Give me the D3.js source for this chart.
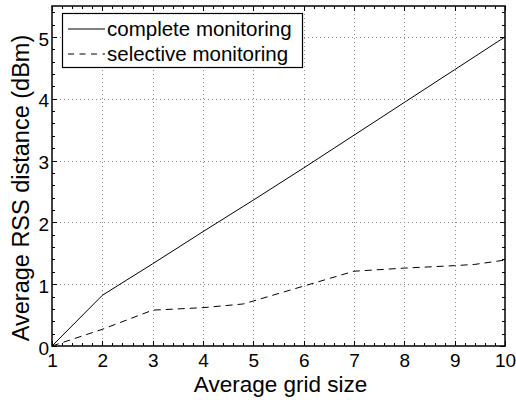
<!DOCTYPE html>
<html>
<head>
<meta charset="utf-8">
<script src="https://cdn.jsdelivr.net/npm/d3@7"></script>
<style>
  body { margin: 0; background: #fff; }
  svg { display: block; font-family: "Liberation Sans", Arial, sans-serif; }
</style>
</head>
<body>
<div id="chart"></div>
<script>
// values
const completeX = [1, 2, 3, 4, 5, 6, 7, 8, 9, 10];
const completeY = [0, 0.82, 1.33, 1.85, 2.36, 2.88, 3.41, 3.94, 4.47, 5.0];
const selectiveX = [1, 2, 3, 4, 4.8, 7, 8, 9, 9.4, 10];
const selectiveY = [0, 0.27, 0.58, 0.62, 0.68, 1.21, 1.26, 1.3, 1.32, 1.39];
const xTicks = [1, 2, 3, 4, 5, 6, 7, 8, 9, 10];
const yTicks = [0, 1, 2, 3, 4, 5];
const seriesNames = ["complete monitoring", "selective monitoring"];

const W = 516, H = 400;
const pL = 52, pR = 505, pT = 6, pB = 346;
const font = "Liberation Sans, Arial, sans-serif";

const svg = d3.select('#chart')
    .append('svg')
    .attr('width', W)
    .attr('height', H);

const x = d3.scaleLinear().domain([1, 10]).range([pL, pR]);
const y = d3.scaleLinear().domain([0, 5.5]).range([pB, pT]);

// dotted grid at the major ticks
const grid = svg.append("g")
    .attr("stroke", "#888")
    .attr("stroke-width", 1)
    .attr("stroke-dasharray", "1,3");
grid.selectAll(".gx").data(xTicks.slice(1, -1)).join("line")
    .attr("x1", d => Math.round(x(d)) + 0.5).attr("x2", d => Math.round(x(d)) + 0.5)
    .attr("y1", pT).attr("y2", pB);
grid.selectAll(".gy").data(yTicks.slice(1)).join("line")
    .attr("y1", d => Math.round(y(d)) + 0.5).attr("y2", d => Math.round(y(d)) + 0.5)
    .attr("x1", pL).attr("x2", pR);

// inward ticks on all four sides, major and minor (0.2 steps)
const minorX = d3.range(1, 10.001, 0.2);
const minorY = d3.range(0, 5.5, 0.2);
const tk = svg.append("g").attr("stroke", "#000").attr("stroke-width", 1);
minorX.forEach(v => {
    const len = Math.abs(v - Math.round(v)) < 1e-6 ? 5 : 3;
    const px = Math.round(x(v)) + 0.5;
    tk.append("line").attr("x1", px).attr("x2", px).attr("y1", pB).attr("y2", pB - len);
    tk.append("line").attr("x1", px).attr("x2", px).attr("y1", pT).attr("y2", pT + len);
});
minorY.forEach(v => {
    const len = Math.abs(v - Math.round(v)) < 1e-6 ? 5 : 3;
    const py = Math.round(y(v)) + 0.5;
    tk.append("line").attr("y1", py).attr("y2", py).attr("x1", pL).attr("x2", pL + len);
    tk.append("line").attr("y1", py).attr("y2", py).attr("x1", pR).attr("x2", pR - len);
});

// tick labels
svg.append("g")
    .attr("transform", `translate(0,${pB})`)
    .call(d3.axisBottom(x).tickValues(xTicks).tickSize(0).tickPadding(7.5).tickFormat(d3.format("d")))
    .attr("font-size", 19).attr("font-family", font)
    .call(g => g.select(".domain").remove())
    .call(g => g.selectAll("text").attr("fill", "#000"));
svg.append("g")
    .attr("transform", `translate(${pL},2)`)
    .call(d3.axisLeft(y).tickValues(yTicks).tickSize(0).tickPadding(3).tickFormat(d3.format("d")))
    .attr("font-size", 19).attr("font-family", font)
    .call(g => g.select(".domain").remove())
    .call(g => g.selectAll("text").attr("fill", "#000"));

// box
svg.append("rect")
    .attr("x", pL).attr("y", pT)
    .attr("width", pR - pL).attr("height", pB - pT)
    .attr("fill", "none").attr("stroke", "#000").attr("stroke-width", 1.5);

// lines
const line = d3.line().x(d => x(d[0])).y(d => y(d[1]));
svg.append("path")
    .datum(d3.zip(completeX, completeY))
    .attr("d", line).attr("fill", "none").attr("stroke", "#000").attr("stroke-width", 1);
svg.append("path")
    .datum(d3.zip(selectiveX, selectiveY))
    .attr("d", line).attr("fill", "none").attr("stroke", "#000").attr("stroke-width", 1)
    .attr("stroke-dasharray", "7,5");

// legend
const lg = svg.append("g");
lg.append("rect").attr("x", 62.5).attr("y", 13.5).attr("width", 240).attr("height", 54)
    .attr("fill", "#fff").attr("stroke", "#000").attr("stroke-width", 1.2);
seriesNames.forEach((name, i) => {
    const yy = 29 + i * 25;
    lg.append("line").attr("x1", 68).attr("x2", 105).attr("y1", yy).attr("y2", yy)
        .attr("stroke", "#000").attr("stroke-width", 1)
        .attr("stroke-dasharray", i == 1 ? "6,5.5" : null);
    lg.append("text").attr("x", 107).attr("y", yy + 7).attr("font-size", 20.5)
        .attr("font-family", font).text(name);
});

// axis titles
svg.append("text")
    .attr("x", (pL + pR) / 2 + 2).attr("y", 392)
    .attr("text-anchor", "middle").attr("font-size", 22.5).attr("font-family", font)
    .text("Average grid size");
svg.append("text")
    .attr("transform", "rotate(-90)")
    .attr("x", -188).attr("y", 29)
    .attr("text-anchor", "middle").attr("font-size", 23.5).attr("font-family", font)
    .text("Average RSS distance (dBm)");
</script>
</body>
</html>
